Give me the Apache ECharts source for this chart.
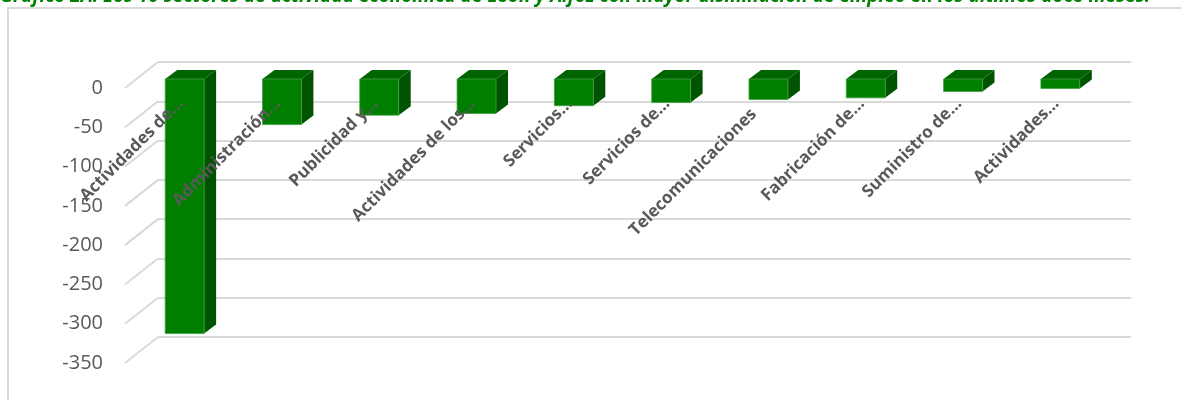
<!DOCTYPE html>
<html>
<head>
<meta charset="utf-8">
<script src="https://cdn.jsdelivr.net/npm/echarts@6/dist/echarts.min.js"></script>
<style>
  html, body { margin: 0; padding: 0; background: #ffffff; }
  #chart { width: 1181px; height: 400px; }
</style>
</head>
<body>
<div id="chart"></div>
<script>
// datos del grafico
var categorias = ['Actividades de…', 'Administración…', 'Publicidad y…', 'Actividades de los…', 'Servicios…',
  'Servicios de…', 'Telecomunicaciones', 'Fabricación de…', 'Suministro de…', 'Actividades…'];
var valores = [-324, -58, -46, -44, -34, -30, -26, -24, -16, -12];
var ticks = [0, -50, -100, -150, -200, -250, -300, -350];

var chart = echarts.init(document.getElementById('chart'));

// desplazamiento de profundidad (efecto 3D)
var DX = 12, DY = -9;
var fuente = '"Open Sans", "Noto Sans", sans-serif';
var estiloEtiqueta = { color: '#595959', fontWeight: 'bold', fontSize: 17, fontFamily: fuente };

function barra3d(params, api) {
  var i = api.value(0), v = api.value(1);
  var p0 = api.coord([i, 0]);
  var p1 = api.coord([i, v]);
  var w = api.size([1, 0])[0] * 0.4;
  var x0 = p0[0] - w / 2, x1 = p0[0] + w / 2;
  var yT = p0[1], yB = p1[1];
  return {
    type: 'group',
    children: [
      { type: 'polygon', shape: { points: [[x1, yT], [x1 + DX, yT + DY], [x1 + DX, yB + DY], [x1, yB]] },
        style: { fill: '#005300' } },
      { type: 'polygon', shape: { points: [[x0, yT], [x1, yT], [x1 + DX, yT + DY], [x0 + DX, yT + DY]] },
        style: { fill: '#006500' } },
      { type: 'polygon', shape: { points: [[x0, yT], [x1, yT], [x1, yB], [x0, yB]] },
        style: { fill: '#007e00', stroke: '#3f9f3f', lineWidth: 0.8 } }
    ]
  };
}

// lineas diagonales de la pared lateral
function diagonal(params, api) {
  var v = api.value(1);
  var p = api.coord([0, v]);
  var x = params.coordSys.x;
  return {
    type: 'line',
    shape: { x1: x, y1: p[1], x2: x + 33, y2: p[1] - 26 },
    style: { stroke: '#d9d9d9', lineWidth: 2 }
  };
}

var option = {
  animation: false,
  title: {
    text: 'Gráfico 2A: Los 10 sectores de actividad económica de León y Alfoz con mayor disminución de empleo en los últimos doce meses.',
    left: -5,
    top: -18,
    textStyle: { color: '#008000', fontSize: 19, fontStyle: 'italic', fontWeight: 'bold', fontFamily: fuente }
  },
  graphic: [{
    type: 'rect',
    shape: { x: 8, y: 8, width: 1200, height: 500 },
    style: { fill: 'none', stroke: '#d9d9d9', lineWidth: 2 },
    silent: true
  }],
  grid: [
    { left: 125, top: 88, width: 973, height: 275, outerBoundsMode: 'none' }, // plano frontal
    { left: 158, top: 62, width: 973, height: 275, outerBoundsMode: 'none' }, // pared del fondo
    { left: 136, top: 79, width: 973, height: 275, outerBoundsMode: 'none' }, // plano de las barras
    { left: 132, top: 59, width: 973, height: 20, outerBoundsMode: 'none' }   // etiquetas de categoria
  ],
  xAxis: [
    { gridIndex: 0, type: 'category', data: categorias, show: false },
    { gridIndex: 1, type: 'category', data: categorias, show: false },
    { gridIndex: 2, type: 'category', data: categorias, show: false },
    {
      gridIndex: 3, type: 'category', data: categorias, position: 'bottom', z: 20,
      axisLine: { show: false },
      axisTick: { show: false },
      axisLabel: {
        interval: 0, rotate: 45, margin: 22,
        color: '#595959', fontWeight: 'bold', fontSize: 17, fontFamily: fuente,
        formatter: function (v) {
          // las etiquetas sin "…" quedan algo mas abajo en el original
          return v.indexOf('…') < 0 ? '{t|' + v + '}' : '{n|' + v + '}';
        },
        rich: {
          n: estiloEtiqueta,
          t: Object.assign({ padding: [0, 15, 0, 0] }, estiloEtiqueta)
        }
      }
    }
  ],
  yAxis: [
    {
      gridIndex: 0, type: 'value', min: -350, max: 0, interval: 50,
      axisLine: { show: false }, axisTick: { show: false }, splitLine: { show: false },
      axisLabel: { margin: 22, color: '#595959', fontSize: 20, fontFamily: fuente }
    },
    {
      gridIndex: 1, type: 'value', min: -350, max: 0, interval: 50,
      axisLine: { show: false }, axisTick: { show: false }, axisLabel: { show: false },
      splitLine: { show: true, lineStyle: { color: '#d9d9d9', width: 2 } }
    },
    { gridIndex: 2, type: 'value', min: -350, max: 0, interval: 50, show: false },
    { gridIndex: 3, type: 'value', min: 0, max: 1, show: false }
  ],
  series: [
    {
      type: 'custom', xAxisIndex: 0, yAxisIndex: 0,
      renderItem: diagonal,
      data: ticks.map(function (t) { return [0, t]; }),
      silent: true
    },
    {
      type: 'custom', xAxisIndex: 2, yAxisIndex: 2,
      renderItem: barra3d,
      data: valores.map(function (v, i) { return [i, v]; }),
      z: 5
    }
  ]
};

chart.setOption(option);
window.addEventListener('resize', function () {
  chart.resize();
});
</script>
</body>
</html>
